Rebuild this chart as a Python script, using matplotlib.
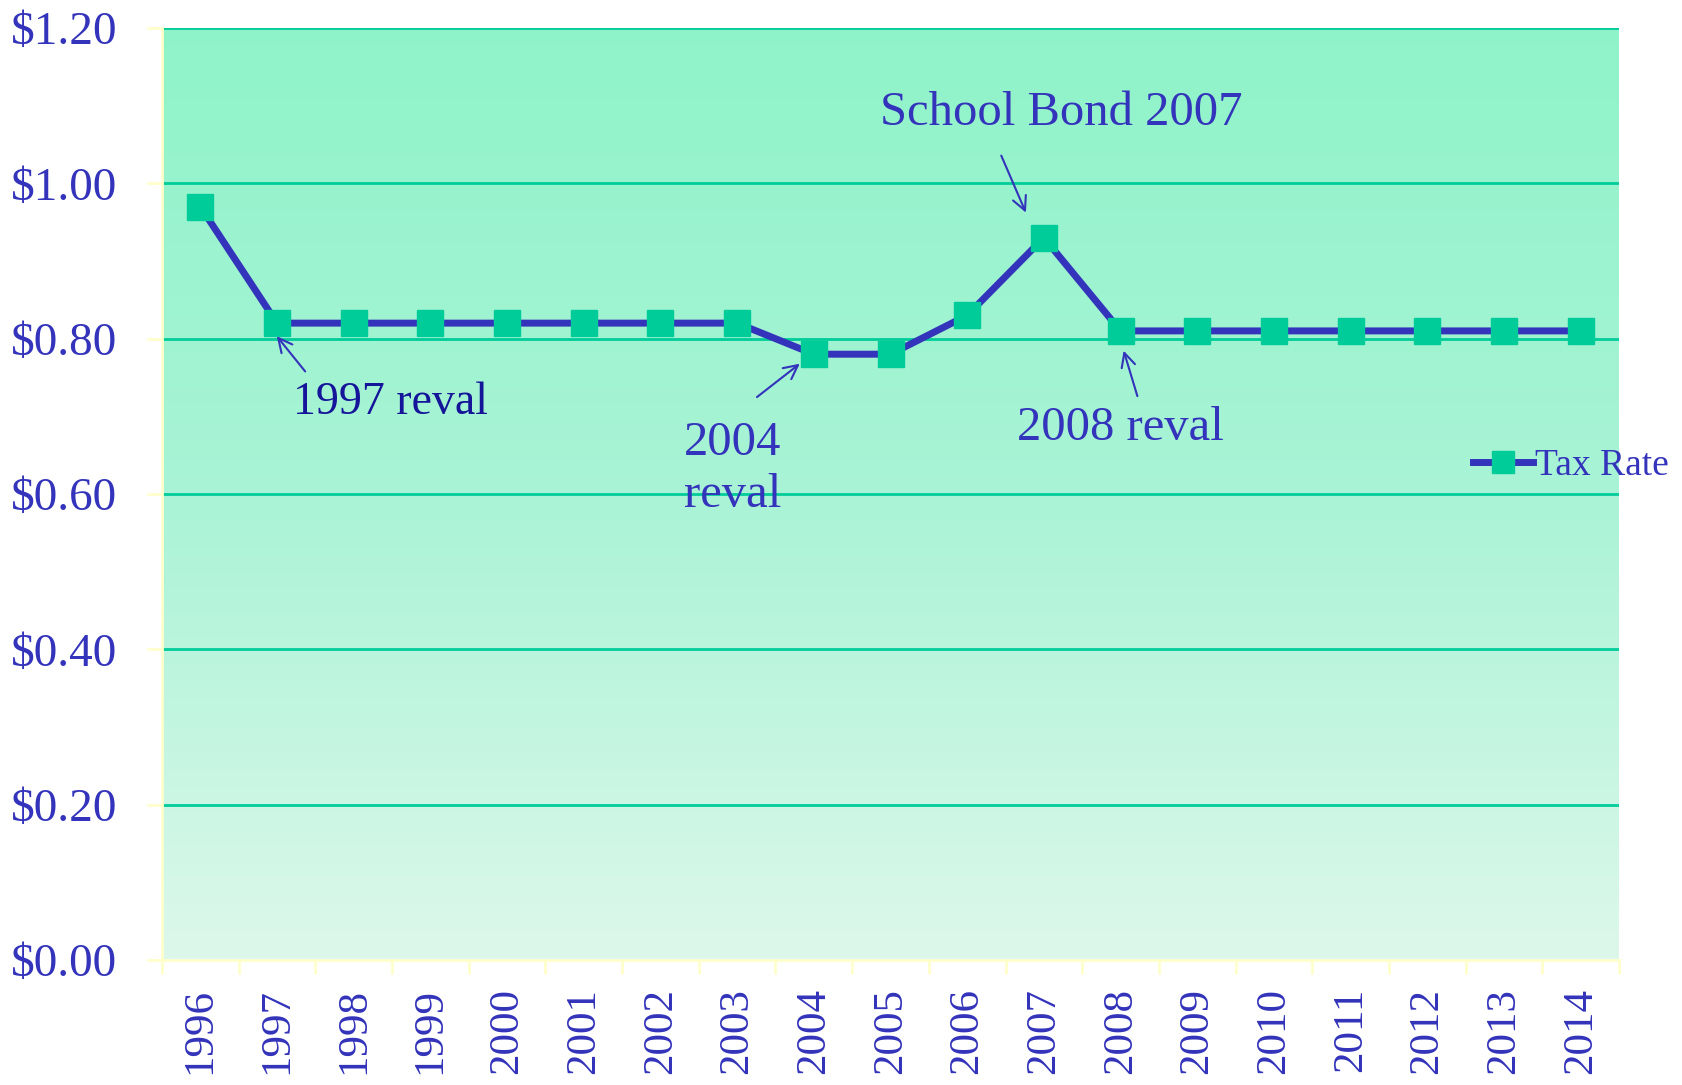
import numpy as np
import matplotlib
matplotlib.use("Agg")
import matplotlib.pyplot as plt
from matplotlib.colors import LinearSegmentedColormap
from matplotlib.ticker import FixedLocator

years = ["1996", "1997", "1998", "1999", "2000", "2001", "2002", "2003", "2004", "2005",
         "2006", "2007", "2008", "2009", "2010", "2011", "2012", "2013", "2014"]
tax_rate = [0.97, 0.82, 0.82, 0.82, 0.82, 0.82, 0.82, 0.82, 0.78, 0.78,
            0.83, 0.93, 0.81, 0.81, 0.81, 0.81, 0.81, 0.81, 0.81]
y_ticks = [0.0, 0.2, 0.4, 0.6, 0.8, 1.0, 1.2]
y_labels = ["$0.00", "$0.20", "$0.40", "$0.60", "$0.80", "$1.00", "$1.20"]

BLUE = "#3333bb"
GREEN = "#00cc99"
PALE = "#ffffcc"
SERIF = ["Liberation Serif", "DejaVu Serif"]

plt.rcParams["font.family"] = SERIF

W, H = 1683, 1085
fig = plt.figure(figsize=(W / 100, H / 100), dpi=100)
ax = fig.add_axes([162 / W, 1 - 960 / H, (1619 - 162) / W, (960 - 28) / H])

x = np.arange(len(years))
ax.set_xlim(-0.5, len(years) - 0.5)
ax.set_ylim(0, 1.2)

# gradient background
cmap = LinearSegmentedColormap.from_list("bg", ["#ddf8eb", "#a9f3d6", "#8ff3c9"])
grad = np.linspace(0, 1, 256).reshape(-1, 1)
ax.imshow(grad, extent=[-0.5, len(years) - 0.5, 0, 1.2], origin="lower",
          aspect="auto", cmap=cmap, zorder=0)

# grid
for yv in y_ticks[1:]:
    ax.axhline(yv, color=GREEN, lw=2, zorder=1)

ax.plot(x, tax_rate, color=BLUE, lw=5, marker="s", markersize=19,
        markerfacecolor=GREEN, markeredgecolor=GREEN, zorder=3, label="Tax Rate")

# spines
for s in ["top", "right"]:
    ax.spines[s].set_visible(False)
for s in ["left", "bottom"]:
    ax.spines[s].set_color(PALE)
    ax.spines[s].set_linewidth(2)
    ax.spines[s].set_zorder(2)

ax.set_yticks(y_ticks)
ax.set_yticklabels(y_labels, fontsize=34, color=BLUE)
ax.tick_params(axis="y", length=11, width=2, color=PALE, pad=21, direction="out")

ax.set_xticks(x)
ax.set_xticklabels(years, rotation=90, fontsize=31, color=BLUE)
ax.tick_params(axis="x", which="major", length=0, pad=20)
ax.xaxis.set_minor_locator(FixedLocator(np.arange(-0.5, len(years), 1.0)))
ax.tick_params(axis="x", which="minor", length=10, width=2, color=PALE, direction="out")

arrow = dict(arrowstyle="->", color=BLUE, lw=1.5, mutation_scale=25)

ax.annotate("", xy=(0.974, 0.806), xytext=(1.39, 0.755), arrowprops=arrow, zorder=4)
ax.text(1.21, 0.718, "1997 reval", fontsize=33, color="#15159a", ha="left", va="center", zorder=4)

ax.annotate("", xy=(7.846, 0.770), xytext=(7.23, 0.7226), arrowprops=arrow, zorder=4)
ax.text(6.31, 0.632, "2004\nreval", fontsize=35, color=BLUE, ha="left", va="center",
        linespacing=1.25, zorder=4)

ax.annotate("", xy=(10.78, 0.959), xytext=(10.43, 1.039), arrowprops=arrow, zorder=4)
ax.text(8.86, 1.091, "School Bond 2007", fontsize=35, color=BLUE, ha="left", va="center", zorder=4)

ax.annotate("", xy=(12.03, 0.788), xytext=(12.23, 0.7226), arrowprops=arrow, zorder=4)
ax.text(10.65, 0.685, "2008 reval", fontsize=35, color=BLUE, ha="left", va="center", zorder=4)

leg = fig.legend(loc="center left", bbox_to_anchor=(1473 / W, 1 - 466 / H),
                 frameon=False, fontsize=27, handlelength=1.6, handletextpad=0.05,
                 borderpad=0, borderaxespad=0, markerscale=0.85)
for t in leg.get_texts():
    t.set_color(BLUE)

fig.savefig("out.png", dpi=100)
